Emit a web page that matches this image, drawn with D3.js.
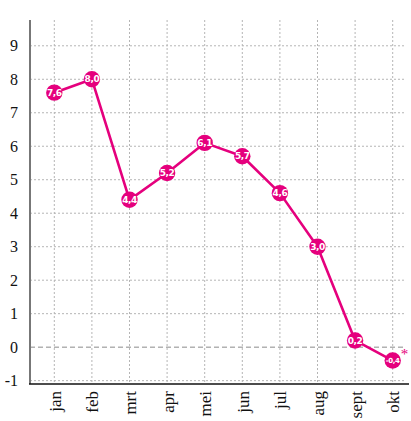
<!DOCTYPE html>
<html>
<head>
<meta charset="utf-8">
<script src="https://cdn.jsdelivr.net/npm/d3@7"></script>
<style>
  body { margin: 0; background: #fff; }
  svg { display: block; font-family: "Liberation Serif", serif; }
</style>
</head>
<body>
<svg width="411" height="421"></svg>
<script>
const months = ['jan', 'feb', 'mrt', 'apr', 'mei', 'jun', 'jul', 'aug', 'sept', 'okt'];
const values = [7.6, 8.0, 4.4, 5.2, 6.1, 5.7, 4.6, 3.0, 0.2, -0.4];
const yTicks = [-1, 0, 1, 2, 3, 4, 5, 6, 7, 8, 9];

const pink = '#e5007d';
const svg = d3.select('svg');

const margin = {left: 30, right: 409, top: 20, bottom: 384};

const x = d3.scalePoint()
  .domain(months)
  .range([54.3, 392.7]);

const y = d3.scaleLinear()
  .domain([-1.1, 9.77])
  .range([margin.bottom, margin.top]);

const fmt = (v) => v.toFixed(1).replace('.', ',');

// grid: vertical
svg.append('g')
  .selectAll('line')
  .data(months)
  .enter().append('line')
  .attr('x1', (d) => x(d)).attr('x2', (d) => x(d))
  .attr('y1', margin.top).attr('y2', margin.bottom)
  .attr('stroke', '#b5b5b5')
  .attr('stroke-width', 1)
  .attr('stroke-dasharray', '2,2');

// grid: horizontal
svg.append('g')
  .selectAll('line')
  .data(yTicks.filter((t) => t !== 0))
  .enter().append('line')
  .attr('x1', margin.left).attr('x2', 406)
  .attr('y1', (d) => y(d)).attr('y2', (d) => y(d))
  .attr('stroke', '#b5b5b5')
  .attr('stroke-width', 1)
  .attr('stroke-dasharray', '2,2');

// zero line
svg.append('line')
  .attr('x1', margin.left).attr('x2', 406)
  .attr('y1', y(0)).attr('y2', y(0))
  .attr('stroke', '#8a8a8a')
  .attr('stroke-width', 1)
  .attr('stroke-dasharray', '5,3');

// y axis
const yAxis = svg.append('g')
  .attr('transform', 'translate(' + margin.left + ',0)')
  .call(d3.axisLeft(y).tickValues(yTicks).tickFormat((d) => String(d)).tickSize(0).tickPadding(12));
yAxis.select('.domain').remove();
yAxis.selectAll('text')
  .attr('font-size', 16)
  .attr('font-family', '"Liberation Serif", serif')
  .attr('fill', '#111');

svg.append('line')
  .attr('x1', margin.left).attr('x2', margin.left)
  .attr('y1', margin.top).attr('y2', margin.bottom)
  .attr('stroke', '#777')
  .attr('stroke-width', 2);

// x axis
const xAxis = svg.append('g')
  .attr('transform', 'translate(0,' + margin.bottom + ')')
  .call(d3.axisBottom(x).tickSize(0).tickPadding(0));
xAxis.select('.domain').remove();
xAxis.selectAll('text')
  .attr('font-size', 17)
  .attr('font-family', '"Liberation Serif", serif')
  .attr('fill', '#111')
  .attr('text-anchor', 'end')
  .attr('dy', '0.35em')
  .attr('transform', 'translate(0,7) rotate(-90)');

svg.append('line')
  .attr('x1', margin.left - 1).attr('x2', margin.right)
  .attr('y1', margin.bottom).attr('y2', margin.bottom)
  .attr('stroke', '#111')
  .attr('stroke-width', 1.5);

// line
const data = months.map((m, i) => ({ m: m, v: values[i] }));
svg.append('path')
  .datum(data)
  .attr('fill', 'none')
  .attr('stroke', pink)
  .attr('stroke-width', 2.6)
  .attr('stroke-linejoin', 'round')
  .attr('d', d3.line().x((d) => x(d.m)).y((d) => y(d.v)));

// points
const pts = svg.append('g')
  .selectAll('g')
  .data(data)
  .enter().append('g')
  .attr('transform', (d) => 'translate(' + x(d.m) + ',' + y(d.v) + ')');

pts.append('circle')
  .attr('r', 8.2)
  .attr('fill', pink);

pts.append('text')
  .attr('text-anchor', 'middle')
  .attr('dy', '0.35em')
  .attr('font-family', '"DejaVu Sans", sans-serif')
  .attr('font-weight', 'bold')
  .attr('font-size', (d) => d.v < 0 ? 7 : 9)
  .attr('letter-spacing', -0.4)
  .attr('fill', '#fff')
  .text((d) => fmt(d.v));

// asterisk on last value
const last = data[data.length - 1];
svg.append('text')
  .attr('x', x(last.m) + 8)
  .attr('y', y(last.v) - 2)
  .attr('font-size', 15)
  .attr('fill', pink)
  .text('*');
</script>
</body>
</html>
